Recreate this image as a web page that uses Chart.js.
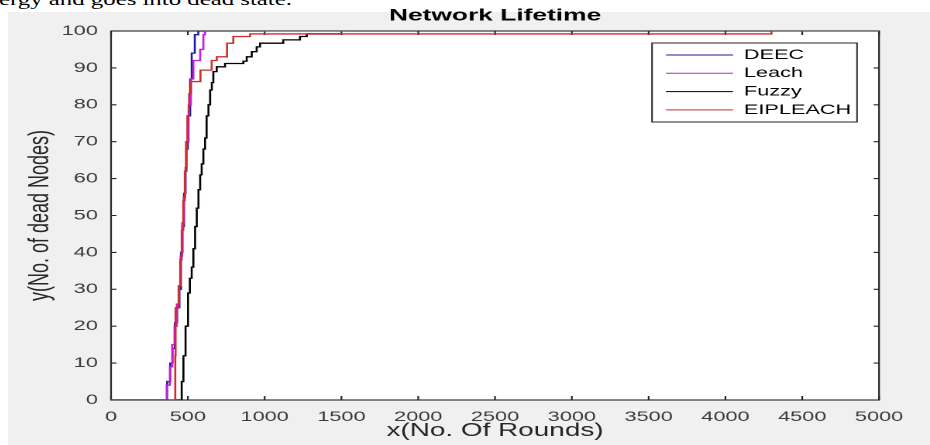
<!DOCTYPE html>
<html>
<head>
<meta charset="utf-8">
<script src="https://cdn.jsdelivr.net/npm/chart.js@4.4.1/dist/chart.umd.min.js"></script>
<style>
  html, body { margin: 0; padding: 0; background: #fff; width: 930px; height: 445px; overflow: hidden; }
  #fig { position: absolute; left: 8px; top: 12px; right: 0; bottom: 0; background: #f0f0f0; }
  #caption { position: absolute; left: -1px; top: -8px; font: 16px "Liberation Serif", "Times New Roman", serif;
             line-height: 16px; white-space: nowrap; transform: scaleX(1.55); transform-origin: 0 0; color: #000; }
  #wrap { position: absolute; left: 8px; top: 0; width: 595px; height: 445px; transform: scaleX(1.5496); transform-origin: 0 0; }
</style>
</head>
<body>
<div id="caption">ergy and goes into dead state.</div>
<div id="fig"></div>
<div id="wrap"><canvas id="lifetime" width="595" height="445"></canvas></div>
<script>
// rounds at which the dead-node count changes, and the count from that round on
const deecRounds = [0, 352, 365, 385, 400, 415, 430, 445, 455, 465, 475, 485, 490, 500, 515, 525, 545, 568, 1000];
const deecDead   = [0, 0, 5, 10, 14, 21, 25, 30, 40, 47, 56, 63, 68, 77, 87, 94, 99, 100, 100];

const leachRounds = [0, 350, 362, 383, 398, 413, 428, 443, 453, 463, 473, 483, 492, 505, 520, 536, 580, 601, 612, 1523];
const leachDead   = [0, 0, 4, 9, 15, 20, 26, 31, 39, 48, 55, 62, 70, 80, 87, 92, 95, 99, 100, 100];

const fuzzyRounds = [0, 449, 460, 471, 485, 501, 513, 525, 536, 547, 558, 569, 580, 590, 601, 612, 622, 634, 645, 656,
                     666, 688, 742, 861, 883, 916, 948, 970, 1121, 1230, 1274, 1500];
const fuzzyDead   = [0, 0, 5, 12, 20, 29, 33, 36, 41, 47, 52, 57, 61, 64, 68, 71, 77, 80, 84, 86,
                     89, 90.3, 91.2, 91.8, 93, 94.4, 95.7, 96.7, 97.6, 98.5, 99.2, 99.2];

const eipRounds = [0, 417, 418, 420, 440, 450, 460, 470, 480, 488, 497, 508, 520, 582, 655, 688, 755, 796, 905, 4300, 5000];
const eipDead   = [0, 0, 12, 25, 31, 38, 46, 54, 62, 70, 77, 83, 86.3, 89.4, 92, 93, 96.7, 98.5, 99.2, 100, 100];

const seriesNames = ["DEEC", "Leach", "Fuzzy", "EIPLEACH"];
const xTicks = { min: 0, max: 5000, step: 500 };
const yTicks = { min: 0, max: 100, step: 10 };

const toPoints = (xs, ys) => xs.map((x, i) => ({ x: x, y: ys[i] }));

const fontFamily = '"Liberation Sans", Arial, Helvetica, sans-serif';
Chart.defaults.font.family = fontFamily;

// white axes background, box frame and inward ticks on all four sides
const matlabAxes = {
  id: 'matlabAxes',
  beforeDatasetsDraw(chart) {
    const { ctx, chartArea: a, scales: { x, y } } = chart;
    ctx.save();
    ctx.fillStyle = '#fff';
    ctx.fillRect(a.left, a.top, a.right - a.left, a.bottom - a.top);
    ctx.strokeStyle = '#262626';
    ctx.lineWidth = 1.1;
    ctx.beginPath();
    x.ticks.forEach(t => {
      const px = x.getPixelForValue(t.value);
      ctx.moveTo(px, a.bottom); ctx.lineTo(px, a.bottom - 4);
      ctx.moveTo(px, a.top); ctx.lineTo(px, a.top + 4);
    });
    y.ticks.forEach(t => {
      const py = y.getPixelForValue(t.value);
      ctx.moveTo(a.left, py); ctx.lineTo(a.left + 3.5, py);
      ctx.moveTo(a.right, py); ctx.lineTo(a.right - 3.5, py);
    });
    ctx.stroke();
    ctx.strokeRect(a.left, a.top, a.right - a.left, a.bottom - a.top);
    ctx.restore();
  }
};

// legend box in the upper right of the axes
const boxLegend = {
  id: 'boxLegend',
  afterDraw(chart) {
    const { ctx, chartArea: a } = chart;
    const w = 132.3, h = 79;
    const left = a.right - 14.2 - w, top = a.top + 12;
    ctx.save();
    ctx.fillStyle = '#fff';
    ctx.fillRect(left, top, w, h);
    ctx.strokeStyle = '#262626';
    ctx.lineWidth = 1;
    ctx.strokeRect(left, top, w, h);
    ctx.font = '14px ' + fontFamily;
    ctx.textBaseline = 'middle';
    chart.data.datasets.forEach((ds, i) => {
      const cy = top + 12 + i * 18.3;
      ctx.strokeStyle = ds.borderColor;
      ctx.beginPath();
      ctx.moveTo(left + 9, cy);
      ctx.lineTo(left + 52.3, cy);
      ctx.stroke();
      ctx.fillStyle = '#000';
      ctx.fillText(ds.label, left + 59.3, cy);
    });
    ctx.restore();
  }
};

const lineStyle = { borderWidth: 1.3, pointRadius: 0, stepped: true, fill: false };

new Chart(document.getElementById('lifetime').getContext('2d'), {
  type: 'line',
  data: {
    datasets: [
      { label: seriesNames[0], data: toPoints(deecRounds, deecDead), borderColor: '#1d1d9e', order: 4, ...lineStyle },
      { label: seriesNames[1], data: toPoints(leachRounds, leachDead), borderColor: '#c41fdb', order: 3, ...lineStyle },
      { label: seriesNames[2], data: toPoints(fuzzyRounds, fuzzyDead), borderColor: '#000000', order: 2, ...lineStyle },
      { label: seriesNames[3], data: toPoints(eipRounds, eipDead), borderColor: '#d02c2c', order: 1, ...lineStyle }
    ]
  },
  options: {
    responsive: false,
    animation: false,
    devicePixelRatio: 2,
    layout: { padding: { left: 0, right: 32.9, top: 0, bottom: 0 } },
    plugins: {
      legend: { display: false },
      tooltip: { enabled: false },
      title: {
        display: true,
        text: 'Network Lifetime',
        fullSize: false,
        color: '#000',
        font: { size: 17, weight: 'bold', lineHeight: 1 },
        padding: { top: 7.5, bottom: 6.5 }
      }
    },
    scales: {
      x: {
        type: 'linear',
        min: xTicks.min,
        max: xTicks.max,
        grid: { display: false, drawTicks: false },
        border: { display: false },
        ticks: { stepSize: xTicks.step, autoSkip: false, maxRotation: 0, padding: 8.6, color: '#3a3a3a',
                 font: { size: 14 }, callback: v => String(v) },
        title: { display: true, text: 'x(No. Of Rounds)', color: '#262626', font: { size: 18, lineHeight: 1.2 }, padding: { top: 0, bottom: 3.2 } },
        afterFit: s => { s.height = 45; }
      },
      y: {
        min: yTicks.min,
        max: yTicks.max,
        grid: { display: false, drawTicks: false },
        border: { display: false },
        ticks: { stepSize: yTicks.step, padding: 8.5, color: '#3a3a3a', font: { size: 14 }, callback: v => String(v) },
        title: { display: true, text: 'y(No. of dead Nodes)', color: '#262626', font: { size: 18, lineHeight: 1.2 }, padding: { top: 10, bottom: 0 } },
        afterFit: s => { s.width = 66.5; }
      }
    }
  },
  plugins: [matlabAxes, boxLegend]
});
</script>
</body>
</html>
